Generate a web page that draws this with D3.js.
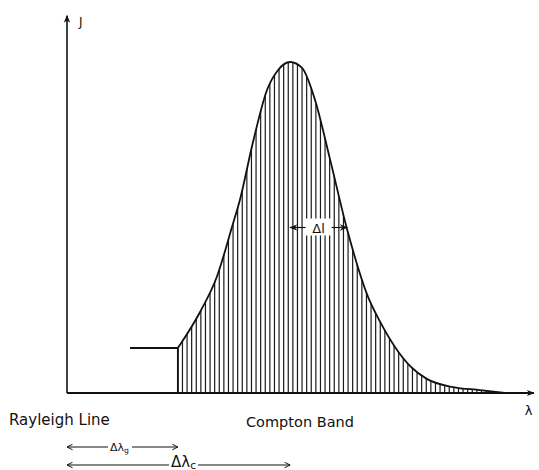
<!DOCTYPE html>
<html>
<head>
<meta charset="utf-8">
<script src="https://cdn.jsdelivr.net/npm/d3@7"></script>
<style>
  html, body { margin: 0; padding: 0; background: #fff; }
  svg text { font-family: 'DejaVu Sans', sans-serif; fill: #111; }
</style>
</head>
<body>
<div id="root"></div>
<script>
'use strict';

// Compton band profile (arbitrary units)
const lambda    = [24.1, 28.9, 32.6, 35.9, 37.6, 40.4, 43.5, 45.9, 48.5, 51.1, 53.9, 57.2, 60.9, 65.4, 68.0, 74.6, 78.3, 83.9, 89.8, 95.2];
const intensity = [13.6, 24.4, 35.2, 50.3, 58.4, 75.6, 91.6, 97.6, 100,  98.2, 88.6, 70.5, 49.4, 29.2, 21.7,  8.1,  4.2,  1.8,  0.9,  0];

// Rayleigh line level and span
const rayleighLambda = [13.7, 24.1];
const rayleighJ = 13.6;

// widths marked on the drawing
const peakLambda = 48.5;
const halfLambda = 60.9;
const halfJ = 50;
const shiftG = [0, 24.1];
const shiftC = [0, 48.5];

const hatchStep = 1;

const Root = document.querySelector('#root');

function draw() {
  const w = 539,
        h = 470,
        svg = d3.select(Root).append('svg')
                .attr('width', w)
                .attr('height', h),

        x = d3.scaleLinear().domain([0, 100]).range([67, 527]),
        y = d3.scaleLinear().domain([0, 100]).range([393, 62]),

        pts = lambda.map((l, i) => [l, intensity[i]]);

  const defs = svg.append('defs');

  defs.append('marker')
      .attr('id', 'head')
      .attr('viewBox', '0 0 10 10')
      .attr('refX', 9).attr('refY', 5)
      .attr('markerWidth', 8).attr('markerHeight', 8)
      .attr('markerUnits', 'userSpaceOnUse')
      .attr('orient', 'auto-start-reverse')
      .append('path')
      .attr('d', 'M0,1 L10,5 L0,9 L3,5 Z')
      .attr('fill', '#111');

  defs.append('marker')
      .attr('id', 'open')
      .attr('viewBox', '0 0 10 10')
      .attr('refX', 9).attr('refY', 5)
      .attr('markerWidth', 7).attr('markerHeight', 7)
      .attr('markerUnits', 'userSpaceOnUse')
      .attr('orient', 'auto-start-reverse')
      .append('path')
      .attr('d', 'M1,1 L9,5 L1,9')
      .attr('fill', 'none')
      .attr('stroke', '#111')
      .attr('stroke-width', 1.4);

  const area = d3.area()
                 .x((d) => x(d[0]))
                 .y0(y(0))
                 .y1((d) => y(d[1]))
                 .curve(d3.curveMonotoneX);

  const line = d3.line()
                 .x((d) => x(d[0]))
                 .y((d) => y(d[1]))
                 .curve(d3.curveMonotoneX);

  defs.append('clipPath')
      .attr('id', 'band')
      .append('path')
      .attr('d', area(pts));

  // hatching
  svg.append('g')
     .attr('clip-path', 'url(#band)')
     .selectAll('line')
     .data(d3.range(lambda[0], lambda[lambda.length - 1], hatchStep))
     .enter()
     .append('line')
     .attr('x1', (d) => x(d))
     .attr('x2', (d) => x(d))
     .attr('y1', y(0))
     .attr('y2', y(105))
     .attr('stroke', '#1a1a1a')
     .attr('stroke-width', 1.2);

  // profile
  svg.append('path')
     .attr('d', line(pts))
     .attr('fill', 'none')
     .attr('stroke', '#111')
     .attr('stroke-width', 1.8);

  // Rayleigh step
  svg.append('path')
     .attr('d', d3.line()([
       [x(rayleighLambda[0]), y(rayleighJ)],
       [x(rayleighLambda[1]), y(rayleighJ)],
       [x(rayleighLambda[1]), y(0)]
     ]))
     .attr('fill', 'none')
     .attr('stroke', '#111')
     .attr('stroke-width', 1.8);

  // axes
  svg.append('line')
     .attr('x1', x(0)).attr('y1', y(0))
     .attr('x2', x(101.5)).attr('y2', y(0))
     .attr('stroke', '#111')
     .attr('stroke-width', 1.8)
     .attr('marker-end', 'url(#head)');

  svg.append('line')
     .attr('x1', x(0)).attr('y1', y(0))
     .attr('x2', x(0)).attr('y2', y(114))
     .attr('stroke', '#111')
     .attr('stroke-width', 1.6)
     .attr('marker-end', 'url(#head)');

  svg.append('text')
     .attr('x', x(0) + 12).attr('y', y(114) + 10)
     .attr('font-size', 12)
     .text('J');

  svg.append('text')
     .attr('x', x(99.5)).attr('y', y(0) + 22)
     .attr('font-size', 13)
     .text('λ');

  // Δl half-width marker
  const lx0 = x(peakLambda), lx1 = x(halfLambda), ly = y(halfJ),
        lmid = (lx0 + lx1) / 2;

  svg.append('rect')
     .attr('x', lmid - 13).attr('y', ly - 9)
     .attr('width', 26).attr('height', 17)
     .attr('fill', '#fff');

  svg.append('line')
     .attr('x1', lmid - 13).attr('y1', ly)
     .attr('x2', lx0).attr('y2', ly)
     .attr('stroke', '#111').attr('stroke-width', 1.2)
     .attr('marker-end', 'url(#head)');

  svg.append('line')
     .attr('x1', lmid + 13).attr('y1', ly)
     .attr('x2', lx1).attr('y2', ly)
     .attr('stroke', '#111').attr('stroke-width', 1.2)
     .attr('marker-end', 'url(#head)');

  svg.append('text')
     .attr('x', lmid).attr('y', ly + 5)
     .attr('text-anchor', 'middle')
     .attr('font-size', 13)
     .text('Δl');

  // labels under the axis
  svg.append('text')
     .attr('x', 9).attr('y', 425)
     .attr('font-size', 15)
     .text('Rayleigh Line');

  svg.append('text')
     .attr('x', 246).attr('y', 427)
     .attr('font-size', 14.5)
     .text('Compton Band');

  function span(r, yy, gap0, gap1, label, sub, size, dyText) {
    const a = x(r[0]), b = x(r[1]);
    svg.append('line')
       .attr('x1', a + gap0).attr('y1', yy)
       .attr('x2', a).attr('y2', yy)
       .attr('stroke', '#111').attr('stroke-width', 1.2)
       .attr('marker-end', 'url(#open)');
    svg.append('line')
       .attr('x1', a + gap1).attr('y1', yy)
       .attr('x2', b).attr('y2', yy)
       .attr('stroke', '#111').attr('stroke-width', 1.2)
       .attr('marker-end', 'url(#open)');
    const t = svg.append('text')
                 .attr('x', a + gap0 + 2).attr('y', yy + dyText)
                 .attr('font-size', size);
    t.append('tspan').text(label);
    t.append('tspan')
     .attr('font-size', size * 0.7)
     .attr('dy', 2)
     .text(sub);
  }

  span(shiftG, 447, 41, 65, 'Δλ', 'g', 11, 4);
  span(shiftC, 465, 102, 131, 'Δλ', 'c', 15, 2);
}

draw();
</script>
</body>
</html>
